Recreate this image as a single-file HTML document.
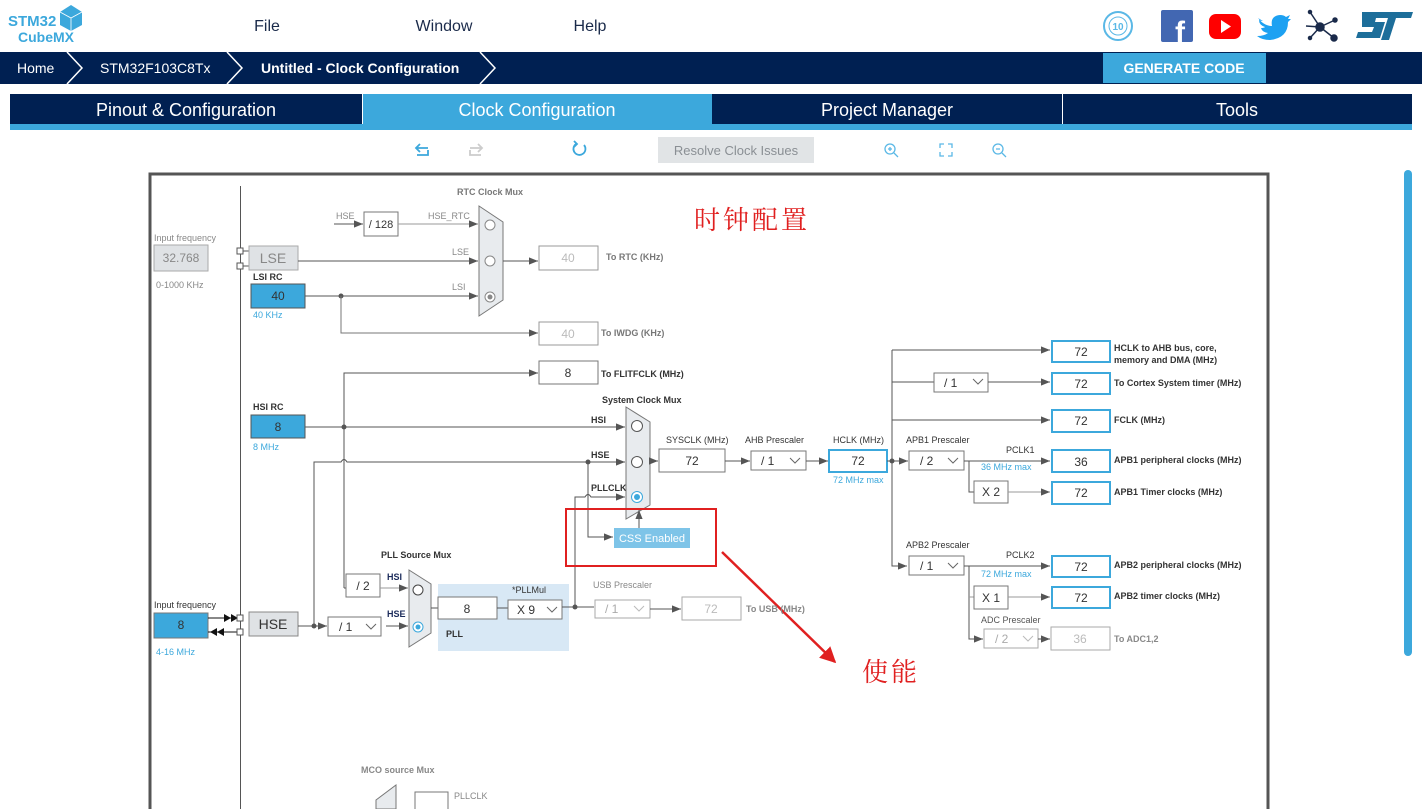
<!DOCTYPE html>
<html><head><meta charset="utf-8"><style>
html,body{margin:0;padding:0;background:#fff;width:1422px;height:809px;overflow:hidden}
svg{display:block}
text{font-family:"Liberation Sans",Arial,sans-serif}
.lb{font-size:9px;font-weight:bold;fill:#333}
.lg{font-size:9px;fill:#888}
.bl{font-size:9px;fill:#3ca8dc}
.ln{stroke:#555;stroke-width:1;fill:none}
.bx{fill:#fff;stroke:#777;stroke-width:1}
.ob{fill:#fff;stroke:#3ca8dc;stroke-width:2}
.v{font-size:12px;fill:#333;text-anchor:middle}
.vg{font-size:12px;fill:#bbb;text-anchor:middle}
.mux{fill:#e8ebee;stroke:#777;stroke-width:1}
</style></head><body>
<svg width="1422" height="809" viewBox="0 0 1422 809" xmlns="http://www.w3.org/2000/svg">
<defs>
<marker id="a" viewBox="0 0 10 10" refX="10" refY="5" markerWidth="9" markerHeight="9" orient="auto" markerUnits="userSpaceOnUse"><path d="M0,1 L10,5 L0,9 z" fill="#555"/></marker>
<marker id="ra" viewBox="0 0 10 10" refX="9" refY="5" markerWidth="16" markerHeight="16" orient="auto" markerUnits="userSpaceOnUse"><path d="M0,0 L10,5 L0,10 z" fill="#e02020"/></marker>
</defs>

<!-- header -->
<text x="8" y="26" font-size="15" font-weight="bold" fill="#3ca8dc">STM32</text>
<text x="18" y="42" font-size="14" font-weight="bold" fill="#3ca8dc">CubeMX</text>
<path d="M60,12 L71,5 L82,12 L82,25 L71,31 L60,25 z" fill="#3ca8dc"/>
<path d="M60,12 L71,18 L82,12 M71,18 L71,31" stroke="#fff" stroke-width="0.8" fill="none"/>
<text x="267" y="31" font-size="16" fill="#1a2a4a" text-anchor="middle">File</text>
<text x="444" y="31" font-size="16" fill="#1a2a4a" text-anchor="middle">Window</text>
<text x="590" y="31" font-size="16" fill="#1a2a4a" text-anchor="middle">Help</text>
<circle cx="1118" cy="26" r="14" fill="none" stroke="#5ab8e6" stroke-width="2"/>
<circle cx="1118" cy="26" r="9" fill="none" stroke="#5ab8e6" stroke-width="1"/>
<text x="1118" y="30" font-size="10" font-weight="bold" fill="#5ab8e6" text-anchor="middle">10</text>
<rect x="1161" y="10" width="32" height="32" rx="2" fill="#4267b2"/>
<text x="1180" y="42" font-size="30" font-weight="bold" fill="#fff" text-anchor="middle">f</text>
<rect x="1209" y="14" width="32" height="25" rx="7" fill="#f00"/>
<path d="M1221,20 L1231,26.5 L1221,33 z" fill="#fff"/>
<path d="M1258,18 q6,8 14,8 q-2,-10 8,-11 q4,0 6,2 l4,-2 l-2,4 l3,0 l-3,3 q0,16 -18,18 q-8,0 -13,-4 q7,0 11,-3 q-6,-1 -7,-5 q3,0 4,-1 q-6,-2 -6,-7 q2,1 4,1 q-5,-3 -5,-3z" fill="#1da1f2"/>
<g stroke="#1a2a4a" stroke-width="1.5" fill="#1a2a4a"><line x1="1320" y1="27" x2="1310" y2="12"/><line x1="1320" y1="27" x2="1335" y2="20"/><line x1="1320" y1="27" x2="1334" y2="38"/><line x1="1320" y1="27" x2="1310" y2="38"/><line x1="1320" y1="27" x2="1306" y2="26"/><circle cx="1320" cy="27" r="4"/><circle cx="1334" cy="38" r="3"/><circle cx="1335" cy="20" r="2"/><circle cx="1310" cy="12" r="1.5"/><circle cx="1310" cy="38" r="1.5"/></g>
<path d="M1362,12 L1413,12 L1411,18 L1396,18 L1389,40 L1381,40 L1388,18 L1376,18 L1375,22 L1385,22 L1380,38 L1356,38 L1358,32 L1372,32 L1374,27 L1362,27 z" fill="#1d6e9a"/>

<!-- breadcrumb -->
<rect x="0" y="52" width="1422" height="32" fill="#002052"/>
<g stroke="#fff" stroke-width="1.5" fill="none"><path d="M67,52 L82,68 L67,84"/><path d="M227,52 L242,68 L227,84"/><path d="M480,52 L495,68 L480,84"/></g>
<text x="17" y="73" font-size="14" fill="#fff">Home</text>
<text x="100" y="73" font-size="14" fill="#fff">STM32F103C8Tx</text>
<text x="261" y="73" font-size="14" font-weight="bold" fill="#fff">Untitled - Clock Configuration</text>
<rect x="1103" y="53" width="163" height="30" fill="#3ca8dc"/>
<text x="1184" y="73" font-size="14" font-weight="bold" fill="#fff" text-anchor="middle">GENERATE CODE</text>

<!-- tabs -->
<rect x="10" y="94" width="1402" height="30" fill="#002052"/>
<rect x="363" y="94" width="349" height="30" fill="#3ca8dc"/>
<rect x="10" y="124" width="1402" height="6" fill="#3ca8dc"/>
<rect x="362" y="94" width="1" height="30" fill="#fff"/><rect x="1062" y="94" width="1" height="30" fill="#fff"/>
<text x="186" y="116" font-size="18" fill="#fff" text-anchor="middle">Pinout &amp; Configuration</text>
<text x="537" y="116" font-size="18" fill="#fff" text-anchor="middle">Clock Configuration</text>
<text x="887" y="116" font-size="18" fill="#fff" text-anchor="middle">Project Manager</text>
<text x="1237" y="116" font-size="18" fill="#fff" text-anchor="middle">Tools</text>

<!-- toolbar -->
<g fill="none" stroke-width="1.8">
<path d="M428,150 L428,155 L417,155 M420,144 L416,148 L420,152 M416,148 L428,148" stroke="#3ca8dc"/>
<path d="M470,150 L470,155 L481,155 M478,144 L482,148 L478,152 M482,148 L470,148" stroke="#ccc"/>
<path d="M576,144 A6,6 0 1 0 584,145" stroke="#3ca8dc"/><path d="M574,141 L577,144 L574,147" stroke="#3ca8dc"/>
<circle cx="890" cy="149" r="5" stroke="#5ab8e6" stroke-width="1.3"/><path d="M894,153 L898,157 M888,149 L892,149 M890,147 L890,151" stroke="#5ab8e6" stroke-width="1.3"/>
<path d="M940,148 L940,144 L944,144 M948,144 L952,144 L952,148 M952,152 L952,156 L948,156 M944,156 L940,156 L940,152" stroke="#5ab8e6" stroke-width="1.3"/>
<circle cx="998" cy="149" r="5" stroke="#5ab8e6" stroke-width="1.3"/><path d="M1002,153 L1006,157 M996,149 L1000,149" stroke="#5ab8e6" stroke-width="1.3"/>
</g>
<rect x="658" y="137" width="156" height="26" fill="#e1e4e6"/>
<text x="736" y="155" font-size="13" fill="#8a8f94" text-anchor="middle">Resolve Clock Issues</text>

<!-- frame -->
<path d="M150,809 L150,174 L1268,174 L1268,809" fill="none" stroke="#555" stroke-width="3"/>
<rect x="1404" y="170" width="8" height="486" rx="4" fill="#3ca8dc"/>
<line x1="240.5" y1="186" x2="240.5" y2="809" stroke="#555"/>

<!-- left top -->
<text x="154" y="241" class="lg">Input frequency</text>
<rect x="154" y="245" width="54" height="26" fill="#dfe2e5" stroke="#aaa"/>
<text x="181" y="262" class="vg" style="fill:#888">32.768</text>
<text x="156" y="288" class="lg">0-1000 KHz</text>
<rect x="237" y="248" width="6" height="6" fill="#fff" stroke="#555"/><rect x="237" y="263" width="6" height="6" fill="#fff" stroke="#555"/>
<line x1="243" y1="251" x2="249" y2="251" class="ln"/><line x1="243" y1="266" x2="249" y2="266" class="ln"/>
<rect x="249" y="246" width="49" height="24" fill="#dfe2e5" stroke="#aaa"/>
<text x="273" y="263" font-size="14" fill="#888" text-anchor="middle">LSE</text>
<text x="253" y="280" class="lb">LSI RC</text>
<rect x="251" y="284" width="54" height="24" fill="#3ca8dc" stroke="#555"/>
<text x="278" y="300" class="v">40</text>
<text x="253" y="318" class="bl">40 KHz</text>

<text x="457" y="195" class="lb" style="fill:#777">RTC Clock Mux</text>
<text x="336" y="219" class="lg">HSE</text>
<line x1="334" y1="224" x2="363" y2="224" class="ln" marker-end="url(#a)"/>
<rect x="364" y="212" width="34" height="24" class="bx"/>
<text x="381" y="228" class="v" style="font-size:11px">/ 128</text>
<text x="428" y="219" class="lg">HSE_RTC</text>
<line x1="398" y1="224" x2="478" y2="224" class="ln" style="stroke:#999" marker-end="url(#a)"/>
<text x="452" y="255" class="lg">LSE</text>
<line x1="298" y1="261" x2="478" y2="261" class="ln" marker-end="url(#a)"/>
<text x="452" y="290" class="lg">LSI</text>
<line x1="305" y1="296" x2="478" y2="296" class="ln" marker-end="url(#a)"/>
<circle cx="341" cy="296" r="2.5" fill="#555"/>
<path d="M341,296 L341,333 L538,333" class="ln" style="stroke:#777" marker-end="url(#a)"/>
<path d="M479,206 L503,222 L503,300 L479,316 z" class="mux"/>
<circle cx="490" cy="225" r="5" fill="#fff" stroke="#888"/><circle cx="490" cy="261" r="5" fill="#fff" stroke="#888"/>
<circle cx="490" cy="297" r="5" fill="#fff" stroke="#888"/><circle cx="490" cy="297" r="2.5" fill="#888"/>
<line x1="503" y1="261" x2="538" y2="261" class="ln" marker-end="url(#a)"/>
<rect x="539" y="246" width="59" height="24" class="bx" style="stroke:#999"/><text x="568" y="262" class="vg">40</text>
<text x="606" y="260" class="lb" style="fill:#777">To RTC (KHz)</text>
<rect x="539" y="322" width="59" height="23" class="bx" style="stroke:#999"/><text x="568" y="338" class="vg">40</text>
<text x="601" y="336" class="lb" style="fill:#777">To IWDG (KHz)</text>
<rect x="539" y="361" width="59" height="23" class="bx"/><text x="568" y="377" class="v">8</text>
<text x="601" y="377" class="lb">To FLITFCLK (MHz)</text>
<path d="M344,588 L344,373 L538,373" class="ln" marker-end="url(#a)"/>
<line x1="344" y1="588" x2="346" y2="588" class="ln"/>

<text x="602" y="403" class="lb">System Clock Mux</text>
<text x="253" y="410" class="lb">HSI RC</text>
<rect x="251" y="415" width="54" height="23" fill="#3ca8dc" stroke="#555"/><text x="278" y="431" class="v">8</text>
<text x="253" y="450" class="bl">8 MHz</text>
<text x="591" y="423" class="lb">HSI</text>
<line x1="305" y1="427" x2="625" y2="427" class="ln" marker-end="url(#a)"/>
<circle cx="344" cy="427" r="2.5" fill="#555"/>
<text x="591" y="458" class="lb">HSE</text>
<path d="M314,626 L314,462 L341,462 q3,-5 6,0 L625,462" class="ln" marker-end="url(#a)"/>
<circle cx="588" cy="462" r="2.5" fill="#555"/>
<path d="M588,462 L588,537 L613,537" class="ln" marker-end="url(#a)"/>
<text x="591" y="491" class="lb">PLLCLK</text>
<path d="M575,607 L575,497 L585,497 q3,-5 6,0 L625,497" class="ln" marker-end="url(#a)"/>
<path d="M626,407 L650,422 L650,505 L626,519 z" class="mux"/>
<circle cx="637" cy="426" r="5.5" fill="#fff" stroke="#555"/><circle cx="637" cy="462" r="5.5" fill="#fff" stroke="#555"/>
<circle cx="637" cy="497" r="5.5" fill="#fff" stroke="#3ca8dc"/><circle cx="637" cy="497" r="3" fill="#3ca8dc"/>
<line x1="639" y1="528" x2="639" y2="510" class="ln" marker-end="url(#a)"/>
<rect x="614" y="528" width="76" height="20" fill="#7ec4e8"/>
<text x="652" y="542" font-size="11" fill="#fff" text-anchor="middle">CSS Enabled</text>
<rect x="566" y="509" width="150" height="57" fill="none" stroke="#e02020" stroke-width="2"/>
<line x1="722" y1="552" x2="835" y2="662" stroke="#e02020" stroke-width="2.5" marker-end="url(#ra)"/>
<text x="694" y="229" font-size="26" fill="#e02020" font-family="Noto Serif CJK SC,serif" letter-spacing="3" style="font-family:'Noto Serif CJK SC',serif">时钟配置</text>
<text x="862" y="681" font-size="26" fill="#e02020" letter-spacing="3" style="font-family:'Noto Serif CJK SC',serif">使能</text>

<line x1="650" y1="461" x2="658" y2="461" class="ln" marker-end="url(#a)"/>
<text x="666" y="443" class="lg" style="fill:#333">SYSCLK (MHz)</text>
<rect x="659" y="449" width="66" height="23" class="bx"/><text x="692" y="465" class="v">72</text>
<line x1="725" y1="461" x2="750" y2="461" class="ln" marker-end="url(#a)"/>
<text x="745" y="443" class="lg" style="fill:#333">AHB Prescaler</text>
<rect x="751" y="451" width="55" height="19" class="bx"/><text x="761" y="465" font-size="12" fill="#333">/ 1</text>
<path d="M790,458 L795,463 L800,458" stroke="#666" fill="none"/>
<line x1="806" y1="461" x2="828" y2="461" class="ln" marker-end="url(#a)"/>
<text x="833" y="443" class="lg" style="fill:#333">HCLK (MHz)</text>
<rect x="829" y="450" width="58" height="22" class="ob"/><text x="858" y="465" class="v">72</text>
<text x="833" y="483" class="bl">72 MHz max</text>
<line x1="887" y1="461" x2="908" y2="461" class="ln" marker-end="url(#a)"/>
<circle cx="892" cy="461" r="2.5" fill="#555"/>
<path d="M892,350 L892,566 L907,566" class="ln" marker-end="url(#a)"/>
<line x1="892" y1="350" x2="1050" y2="350" class="ln" marker-end="url(#a)"/>
<line x1="892" y1="382" x2="934" y2="382" class="ln"/>
<rect x="934" y="373" width="54" height="19" class="bx"/><text x="944" y="387" font-size="12" fill="#333">/ 1</text>
<path d="M973,379 L978,384 L983,379" stroke="#666" fill="none"/>
<line x1="988" y1="382" x2="1050" y2="382" class="ln" marker-end="url(#a)"/>
<line x1="892" y1="420" x2="1050" y2="420" class="ln" marker-end="url(#a)"/>
<rect x="1052" y="341" width="58" height="21" class="ob"/><text x="1081" y="356" class="v">72</text>
<text x="1114" y="351" class="lb">HCLK to AHB bus, core,</text>
<text x="1114" y="363" class="lb">memory and DMA (MHz)</text>
<rect x="1052" y="373" width="58" height="21" class="ob"/><text x="1081" y="388" class="v">72</text>
<text x="1114" y="386" class="lb">To Cortex System timer (MHz)</text>
<rect x="1052" y="410" width="58" height="22" class="ob"/><text x="1081" y="425" class="v">72</text>
<text x="1114" y="423" class="lb">FCLK (MHz)</text>

<text x="906" y="443" class="lg" style="fill:#333">APB1 Prescaler</text>
<rect x="909" y="451" width="55" height="19" class="bx"/><text x="920" y="465" font-size="12" fill="#333">/ 2</text>
<path d="M948,458 L953,463 L958,458" stroke="#666" fill="none"/>
<text x="1006" y="453" class="lg" style="fill:#333">PCLK1</text>
<text x="981" y="470" class="bl">36 MHz max</text>
<line x1="964" y1="461" x2="1050" y2="461" class="ln" marker-end="url(#a)"/>
<path d="M969,461 L969,492 L974,492" class="ln"/>
<rect x="974" y="481" width="34" height="22" class="bx"/><text x="991" y="496" class="v">X 2</text>
<line x1="1008" y1="492" x2="1050" y2="492" class="ln" style="stroke:#999" marker-end="url(#a)"/>
<rect x="1052" y="450" width="58" height="22" class="ob"/><text x="1081" y="466" class="v">36</text>
<text x="1114" y="463" class="lb">APB1 peripheral clocks (MHz)</text>
<rect x="1052" y="482" width="58" height="22" class="ob"/><text x="1081" y="497" class="v">72</text>
<text x="1114" y="495" class="lb">APB1 Timer clocks (MHz)</text>

<text x="906" y="548" class="lg" style="fill:#333">APB2 Prescaler</text>
<rect x="909" y="556" width="55" height="19" class="bx"/><text x="920" y="570" font-size="12" fill="#333">/ 1</text>
<path d="M948,563 L953,568 L958,563" stroke="#666" fill="none"/>
<text x="1006" y="558" class="lg" style="fill:#333">PCLK2</text>
<text x="981" y="577" class="bl">72 MHz max</text>
<line x1="964" y1="566" x2="1050" y2="566" class="ln" marker-end="url(#a)"/>
<path d="M969,566 L969,639 L983,639" class="ln" marker-end="url(#a)"/>
<line x1="969" y1="597" x2="974" y2="597" class="ln" style="stroke:#999"/>
<rect x="974" y="586" width="34" height="23" class="bx"/><text x="991" y="602" class="v">X 1</text>
<line x1="1008" y1="597" x2="1050" y2="597" class="ln" style="stroke:#999" marker-end="url(#a)"/>
<rect x="1052" y="556" width="58" height="21" class="ob"/><text x="1081" y="571" class="v">72</text>
<text x="1114" y="568" class="lb">APB2 peripheral clocks (MHz)</text>
<rect x="1052" y="587" width="58" height="21" class="ob"/><text x="1081" y="602" class="v">72</text>
<text x="1114" y="599" class="lb">APB2 timer clocks (MHz)</text>
<text x="981" y="623" class="lg" style="fill:#555">ADC Prescaler</text>
<rect x="984" y="629" width="54" height="19" class="bx" style="stroke:#aaa"/><text x="995" y="643" font-size="12" fill="#aaa">/ 2</text>
<path d="M1023,636 L1028,641 L1033,636" stroke="#bbb" fill="none"/>
<line x1="1038" y1="639" x2="1050" y2="639" class="ln" marker-end="url(#a)"/>
<rect x="1051" y="627" width="59" height="23" class="bx" style="stroke:#aaa"/><text x="1080" y="643" class="vg">36</text>
<text x="1114" y="642" class="lb" style="fill:#888">To ADC1,2</text>

<!-- bottom left -->
<text x="154" y="608" class="lg" style="fill:#333">Input frequency</text>
<rect x="154" y="613" width="54" height="25" fill="#3ca8dc" stroke="#777"/><text x="181" y="629" class="v">8</text>
<text x="156" y="655" class="bl">4-16 MHz</text>
<line x1="208" y1="618" x2="237" y2="618" stroke="#111"/><path d="M224,614 L231,618 L224,622z M231,614 L238,618 L231,622z" fill="#111"/>
<line x1="208" y1="632" x2="237" y2="632" stroke="#111"/><path d="M217,632 L224,628 L224,636z M210,632 L217,628 L217,636z" fill="#111"/>
<rect x="237" y="615" width="6" height="6" fill="#fff" stroke="#555"/><rect x="237" y="629" width="6" height="6" fill="#fff" stroke="#555"/>
<rect x="249" y="612" width="49" height="24" fill="#dfe2e5" stroke="#888"/>
<text x="273" y="629" font-size="14" fill="#333" text-anchor="middle">HSE</text>
<line x1="298" y1="626" x2="327" y2="626" class="ln" marker-end="url(#a)"/>
<circle cx="314" cy="626" r="2.5" fill="#555"/>
<rect x="328" y="617" width="53" height="19" class="bx"/><text x="339" y="631" font-size="12" fill="#333">/ 1</text>
<path d="M366,624 L371,629 L376,624" stroke="#666" fill="none"/>
<text x="381" y="558" class="lb">PLL Source Mux</text>
<rect x="346" y="574" width="34" height="23" class="bx"/><text x="363" y="590" class="v">/ 2</text>
<text x="387" y="580" class="lb" style="fill:#1a2a5a">HSI</text>
<line x1="380" y1="588" x2="408" y2="588" class="ln" style="stroke:#999" marker-end="url(#a)"/>
<text x="387" y="617" class="lb" style="fill:#1a2a5a">HSE</text>
<line x1="386" y1="626" x2="408" y2="626" class="ln" marker-end="url(#a)"/>
<path d="M409,570 L431,584 L431,633 L409,647 z" class="mux"/>
<circle cx="418" cy="590" r="5" fill="#fff" stroke="#444"/>
<circle cx="418" cy="627" r="5" fill="#fff" stroke="#3ca8dc"/><circle cx="418" cy="627" r="2.5" fill="#3ca8dc"/>
<rect x="438" y="584" width="131" height="67" fill="#d8e8f5"/>
<line x1="431" y1="608" x2="438" y2="608" class="ln"/>
<rect x="438" y="597" width="59" height="22" class="bx"/><text x="467" y="613" class="v">8</text>
<line x1="497" y1="608" x2="508" y2="608" class="ln"/>
<text x="512" y="593" class="lg" style="fill:#333">*PLLMul</text>
<rect x="508" y="600" width="54" height="19" class="bx"/><text x="517" y="614" font-size="12" fill="#333">X 9</text>
<path d="M547,607 L552,612 L557,607" stroke="#666" fill="none"/>
<text x="446" y="637" class="lb">PLL</text>
<line x1="562" y1="607" x2="594" y2="607" class="ln"/>
<circle cx="575" cy="607" r="2.5" fill="#555"/>
<text x="593" y="588" class="lg">USB Prescaler</text>
<rect x="595" y="600" width="55" height="18" class="bx" style="stroke:#aaa"/><text x="605" y="613" font-size="12" fill="#aaa">/ 1</text>
<path d="M634,606 L639,611 L644,606" stroke="#bbb" fill="none"/>
<line x1="650" y1="609" x2="681" y2="609" class="ln" marker-end="url(#a)"/>
<rect x="682" y="597" width="59" height="23" class="bx" style="stroke:#aaa"/><text x="711" y="613" class="vg">72</text>
<text x="746" y="612" class="lb" style="fill:#888">To USB (MHz)</text>

<text x="361" y="773" class="lb" style="fill:#888">MCO source Mux</text>
<path d="M376,800 L396,785 L396,809 L376,809 z" class="mux"/>
<rect x="415" y="792" width="33" height="20" class="bx"/>
<text x="454" y="799" class="lg">PLLCLK</text>
</svg>
</body></html>
